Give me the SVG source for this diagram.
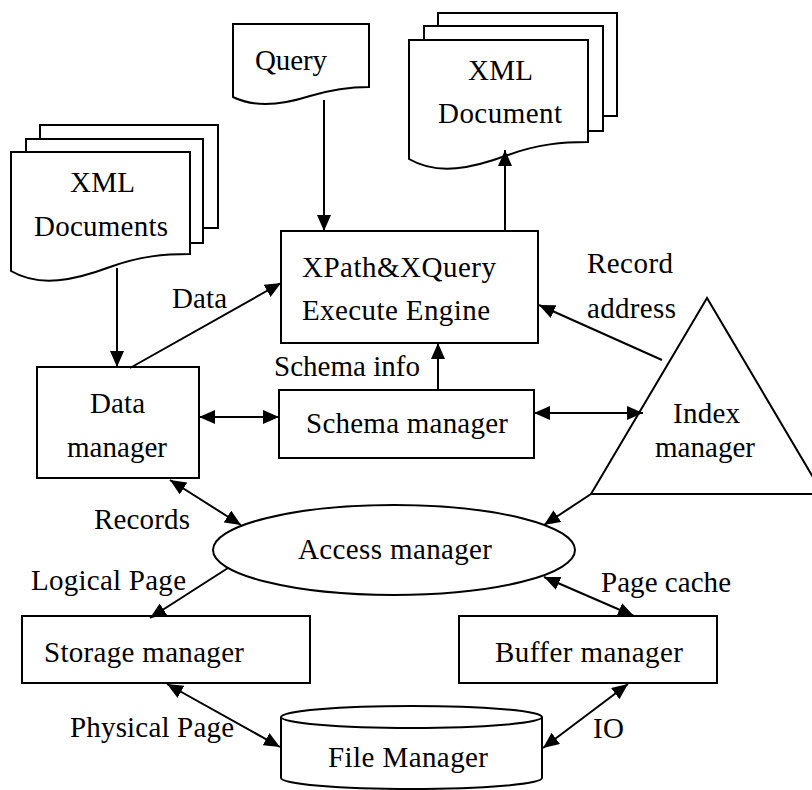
<svg xmlns="http://www.w3.org/2000/svg" width="812" height="790" viewBox="0 0 812 790">
<defs>
<style>
.shape{fill:#fff;stroke:#000;stroke-width:2}
.t{font-family:"Liberation Serif","Times New Roman",serif;font-size:29px;fill:#000}
.c{fill:none;stroke:#000;stroke-width:2}
</style>
<marker id="ah" markerUnits="userSpaceOnUse" markerWidth="17" markerHeight="14" refX="16" refY="7" orient="auto-start-reverse">
<path d="M0,0 L16,7 L0,14 z" fill="#000"/>
</marker>
</defs>
<rect width="812" height="790" fill="#fff"/>

<g id="xml-documents">
<rect class="shape" x="40" y="125" width="178" height="103"/>
<rect class="shape" x="26" y="139" width="177" height="104"/>
<path class="shape" d="M11,152 H190 V254 C165,254 140,256 110,267 C75,280 40,288 11,271 Z"/>
<text class="t" x="70" y="192" textLength="65" lengthAdjust="spacing">XML</text>
<text class="t" x="34" y="236" textLength="134" lengthAdjust="spacing">Documents</text>
</g>

<g id="query">
<path class="shape" d="M233,24 H369 V87 C350,87 330,90 310,96 C285,104 255,108 233,97 Z"/>
<text class="t" x="255" y="70" textLength="72" lengthAdjust="spacing">Query</text>
</g>

<g id="xml-document">
<rect class="shape" x="438" y="13" width="179" height="103"/>
<rect class="shape" x="424" y="26" width="179" height="105"/>
<path class="shape" d="M409,40 H588 V142 C563,142 538,144 508,155 C473,168 438,176 409,159 Z"/>
<text class="t" x="468" y="80" textLength="65" lengthAdjust="spacing">XML</text>
<text class="t" x="438" y="123" textLength="124" lengthAdjust="spacing">Document</text>
</g>

<g id="execute-engine">
<rect class="shape" x="281" y="231" width="257" height="112"/>
<text class="t" x="302" y="277" textLength="194" lengthAdjust="spacing">XPath&amp;XQuery</text>
<text class="t" x="302" y="320" textLength="188" lengthAdjust="spacing">Execute Engine</text>
</g>

<g id="data-manager">
<rect class="shape" x="37" y="367" width="162" height="111"/>
<text class="t" x="90" y="413" textLength="55" lengthAdjust="spacing">Data</text>
<text class="t" x="67" y="457" textLength="100" lengthAdjust="spacing">manager</text>
</g>

<g id="schema-manager">
<rect class="shape" x="279" y="390" width="255" height="68"/>
<text class="t" x="306" y="433" textLength="202" lengthAdjust="spacing">Schema manager</text>
</g>

<g id="index-manager">
<polygon class="shape" points="707,298 591,494 823,494"/>
<text class="t" x="673" y="423" textLength="67" lengthAdjust="spacing">Index</text>
<text class="t" x="655" y="457" textLength="100" lengthAdjust="spacing">manager</text>
</g>

<g id="access-manager">
<ellipse class="shape" cx="394" cy="550" rx="181" ry="45"/>
<text class="t" x="298" y="559" textLength="194" lengthAdjust="spacing">Access manager</text>
</g>

<g id="storage-manager">
<rect class="shape" x="22" y="616" width="288" height="67"/>
<text class="t" x="44" y="662" textLength="200" lengthAdjust="spacing">Storage manager</text>
</g>

<g id="buffer-manager">
<rect class="shape" x="459" y="616" width="258" height="67"/>
<text class="t" x="495" y="662" textLength="188" lengthAdjust="spacing">Buffer manager</text>
</g>

<g id="file-manager">
<path class="shape" d="M281,717 V778 A130.5,11 0 0 0 542,778 V717"/>
<ellipse class="shape" cx="411.5" cy="717" rx="130.5" ry="11"/>
<text class="t" x="328" y="767" textLength="160" lengthAdjust="spacing">File Manager</text>
</g>

<g id="connectors">
<line class="c" x1="117" y1="268" x2="117" y2="367" marker-end="url(#ah)"/>
<line class="c" x1="324" y1="100" x2="324" y2="231" marker-end="url(#ah)"/>
<line class="c" x1="505" y1="231" x2="505" y2="150" marker-end="url(#ah)"/>
<line class="c" x1="130" y1="368" x2="281" y2="283" marker-end="url(#ah)"/>
<line class="c" x1="438" y1="390" x2="438" y2="343" marker-end="url(#ah)"/>
<line class="c" x1="662" y1="360" x2="539" y2="305" marker-end="url(#ah)"/>
<line class="c" x1="199" y1="417" x2="279" y2="417" marker-start="url(#ah)" marker-end="url(#ah)"/>
<line class="c" x1="534" y1="413" x2="643" y2="413" marker-start="url(#ah)" marker-end="url(#ah)"/>
<line class="c" x1="591" y1="494" x2="544" y2="525" marker-end="url(#ah)"/>
<line class="c" x1="170" y1="480" x2="241" y2="525" marker-start="url(#ah)" marker-end="url(#ah)"/>
<line class="c" x1="228" y1="568" x2="150" y2="618" marker-end="url(#ah)"/>
<line class="c" x1="544" y1="577" x2="634" y2="616" marker-start="url(#ah)" marker-end="url(#ah)"/>
<line class="c" x1="167" y1="684" x2="280" y2="747" marker-start="url(#ah)" marker-end="url(#ah)"/>
<line class="c" x1="628" y1="684" x2="543" y2="748" marker-start="url(#ah)" marker-end="url(#ah)"/>
</g>

<g id="labels">
<text class="t" x="172" y="308" textLength="55" lengthAdjust="spacing">Data</text>
<text class="t" x="587" y="273" textLength="86" lengthAdjust="spacing">Record</text>
<text class="t" x="587" y="318" textLength="89" lengthAdjust="spacing">address</text>
<text class="t" x="274" y="376" textLength="146" lengthAdjust="spacing">Schema info</text>
<text class="t" x="94" y="529" textLength="96" lengthAdjust="spacing">Records</text>
<text class="t" x="31" y="590" textLength="155" lengthAdjust="spacing">Logical Page</text>
<text class="t" x="601" y="592" textLength="130" lengthAdjust="spacing">Page cache</text>
<text class="t" x="70" y="737" textLength="164" lengthAdjust="spacing">Physical Page</text>
<text class="t" x="593" y="738" textLength="31" lengthAdjust="spacing">IO</text>
</g>
</svg>
